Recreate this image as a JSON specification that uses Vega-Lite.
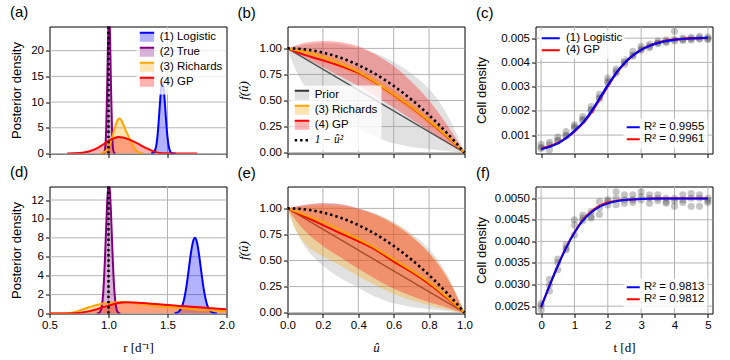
{
"$schema":"https://vega.github.io/schema/vega-lite/v6.json",
"padding":{"left":9.5,"top":4.5,"right":2,"bottom":2},
"columns":3,
"spacing":{"row":5,"column":1},
"align":"each",
"bounds":"full",
"resolve":{"scale":{"x":"independent","y":"independent","fill":"independent","stroke":"independent","color":"independent"},"axis":{"x":"independent","y":"independent"},"legend":{"fill":"independent","stroke":"independent","color":"independent"}},
"datasets":{
"vline":[{"r":1.0}],
"gx":[{"p":"a","v":1},{"p":"a","v":1.5},{"p":"d","v":1},{"p":"d","v":1.5},
{"p":"b","v":0.2},{"p":"b","v":0.4},{"p":"b","v":0.6},{"p":"b","v":0.8},{"p":"e","v":0.2},{"p":"e","v":0.4},{"p":"e","v":0.6},{"p":"e","v":0.8},
{"p":"c","v":0},{"p":"c","v":1},{"p":"c","v":2},{"p":"c","v":3},{"p":"c","v":4},{"p":"c","v":5},{"p":"f","v":0},{"p":"f","v":1},{"p":"f","v":2},{"p":"f","v":3},{"p":"f","v":4},{"p":"f","v":5}],
"gy":[{"p":"a","v":0},{"p":"a","v":5},{"p":"a","v":10},{"p":"a","v":15},{"p":"a","v":20},
{"p":"d","v":0},{"p":"d","v":2},{"p":"d","v":4},{"p":"d","v":6},{"p":"d","v":8},{"p":"d","v":10},{"p":"d","v":12},
{"p":"b","v":0},{"p":"b","v":0.25},{"p":"b","v":0.5},{"p":"b","v":0.75},{"p":"b","v":1},{"p":"e","v":0},{"p":"e","v":0.25},{"p":"e","v":0.5},{"p":"e","v":0.75},{"p":"e","v":1},
{"p":"c","v":0.001},{"p":"c","v":0.002},{"p":"c","v":0.003},{"p":"c","v":0.004},{"p":"c","v":0.005},
{"p":"f","v":0.0025},{"p":"f","v":0.003},{"p":"f","v":0.0035},{"p":"f","v":0.004},{"p":"f","v":0.0045},{"p":"f","v":0.005}],
"dens":[
{"p":"a","s":"(1) Logistic","r":1.36,"d":0},{"p":"a","s":"(1) Logistic","r":1.38,"d":0.12},{"p":"a","s":"(1) Logistic","r":1.40,"d":1.03},{"p":"a","s":"(1) Logistic","r":1.41,"d":2.37},{"p":"a","s":"(1) Logistic","r":1.42,"d":4.65},{"p":"a","s":"(1) Logistic","r":1.43,"d":7.76},{"p":"a","s":"(1) Logistic","r":1.44,"d":11.0},{"p":"a","s":"(1) Logistic","r":1.45,"d":13.4},{"p":"a","s":"(1) Logistic","r":1.457,"d":13.9},{"p":"a","s":"(1) Logistic","r":1.47,"d":12.1},{"p":"a","s":"(1) Logistic","r":1.48,"d":9.1},{"p":"a","s":"(1) Logistic","r":1.49,"d":5.8},{"p":"a","s":"(1) Logistic","r":1.50,"d":3.17},{"p":"a","s":"(1) Logistic","r":1.51,"d":1.46},{"p":"a","s":"(1) Logistic","r":1.52,"d":0.58},{"p":"a","s":"(1) Logistic","r":1.53,"d":0.2},{"p":"a","s":"(1) Logistic","r":1.55,"d":0.01},{"p":"a","s":"(1) Logistic","r":1.57,"d":0},
{"p":"a","s":"(2) True","r":0.95,"d":0},{"p":"a","s":"(2) True","r":0.96,"d":0.07},{"p":"a","s":"(2) True","r":0.97,"d":0.75},{"p":"a","s":"(2) True","r":0.98,"d":4.4},{"p":"a","s":"(2) True","r":0.99,"d":14.4},{"p":"a","s":"(2) True","r":1.0,"d":26},{"p":"a","s":"(2) True","r":1.005,"d":28},{"p":"a","s":"(2) True","r":1.01,"d":26},{"p":"a","s":"(2) True","r":1.02,"d":14.4},{"p":"a","s":"(2) True","r":1.03,"d":4.4},{"p":"a","s":"(2) True","r":1.04,"d":0.75},{"p":"a","s":"(2) True","r":1.05,"d":0.07},{"p":"a","s":"(2) True","r":1.06,"d":0},
{"p":"a","s":"(3) Richards","r":0.93,"d":0},{"p":"a","s":"(3) Richards","r":0.95,"d":0.11},{"p":"a","s":"(3) Richards","r":0.98,"d":0.53},{"p":"a","s":"(3) Richards","r":1.0,"d":1.2},{"p":"a","s":"(3) Richards","r":1.02,"d":2.3},{"p":"a","s":"(3) Richards","r":1.04,"d":3.9},{"p":"a","s":"(3) Richards","r":1.06,"d":5.5},{"p":"a","s":"(3) Richards","r":1.08,"d":6.6},{"p":"a","s":"(3) Richards","r":1.093,"d":6.8},{"p":"a","s":"(3) Richards","r":1.11,"d":6.4},{"p":"a","s":"(3) Richards","r":1.13,"d":5.4},{"p":"a","s":"(3) Richards","r":1.15,"d":4.3},{"p":"a","s":"(3) Richards","r":1.17,"d":3.3},{"p":"a","s":"(3) Richards","r":1.19,"d":2.4},{"p":"a","s":"(3) Richards","r":1.21,"d":1.5},{"p":"a","s":"(3) Richards","r":1.23,"d":0.7},{"p":"a","s":"(3) Richards","r":1.25,"d":0.3},{"p":"a","s":"(3) Richards","r":1.28,"d":0.05},{"p":"a","s":"(3) Richards","r":1.3,"d":0},
{"p":"a","s":"(4) GP","r":0.65,"d":0},{"p":"a","s":"(4) GP","r":0.71,"d":0.03},{"p":"a","s":"(4) GP","r":0.78,"d":0.15},{"p":"a","s":"(4) GP","r":0.84,"d":0.45},{"p":"a","s":"(4) GP","r":0.9,"d":1.0},{"p":"a","s":"(4) GP","r":0.93,"d":1.4},{"p":"a","s":"(4) GP","r":0.97,"d":2.0},{"p":"a","s":"(4) GP","r":1.01,"d":2.6},{"p":"a","s":"(4) GP","r":1.05,"d":3.0},{"p":"a","s":"(4) GP","r":1.08,"d":3.2},{"p":"a","s":"(4) GP","r":1.12,"d":3.1},{"p":"a","s":"(4) GP","r":1.16,"d":2.85},{"p":"a","s":"(4) GP","r":1.2,"d":2.45},{"p":"a","s":"(4) GP","r":1.25,"d":1.9},{"p":"a","s":"(4) GP","r":1.29,"d":1.4},{"p":"a","s":"(4) GP","r":1.33,"d":0.95},{"p":"a","s":"(4) GP","r":1.38,"d":0.45},{"p":"a","s":"(4) GP","r":1.43,"d":0.12},{"p":"a","s":"(4) GP","r":1.5,"d":0.03},{"p":"a","s":"(4) GP","r":1.6,"d":0.01},{"p":"a","s":"(4) GP","r":1.75,"d":0},
{"p":"d","s":"(1) Logistic","r":1.56,"d":0},{"p":"d","s":"(1) Logistic","r":1.58,"d":0.08},{"p":"d","s":"(1) Logistic","r":1.60,"d":0.25},{"p":"d","s":"(1) Logistic","r":1.62,"d":0.65},{"p":"d","s":"(1) Logistic","r":1.64,"d":1.47},{"p":"d","s":"(1) Logistic","r":1.66,"d":2.84},{"p":"d","s":"(1) Logistic","r":1.68,"d":4.66},{"p":"d","s":"(1) Logistic","r":1.70,"d":6.52},{"p":"d","s":"(1) Logistic","r":1.72,"d":7.77},{"p":"d","s":"(1) Logistic","r":1.732,"d":8.0},{"p":"d","s":"(1) Logistic","r":1.75,"d":7.5},{"p":"d","s":"(1) Logistic","r":1.77,"d":5.99},{"p":"d","s":"(1) Logistic","r":1.79,"d":4.08},{"p":"d","s":"(1) Logistic","r":1.81,"d":2.37},{"p":"d","s":"(1) Logistic","r":1.83,"d":1.17},{"p":"d","s":"(1) Logistic","r":1.85,"d":0.49},{"p":"d","s":"(1) Logistic","r":1.87,"d":0.18},{"p":"d","s":"(1) Logistic","r":1.89,"d":0.05},{"p":"d","s":"(1) Logistic","r":1.92,"d":0},
{"p":"d","s":"(2) True","r":0.9,"d":0},{"p":"d","s":"(2) True","r":0.92,"d":0.06},{"p":"d","s":"(2) True","r":0.94,"d":0.58},{"p":"d","s":"(2) True","r":0.95,"d":1.45},{"p":"d","s":"(2) True","r":0.96,"d":3.15},{"p":"d","s":"(2) True","r":0.97,"d":5.77},{"p":"d","s":"(2) True","r":0.98,"d":9.04},{"p":"d","s":"(2) True","r":0.99,"d":12.05},{"p":"d","s":"(2) True","r":1.003,"d":13.8},{"p":"d","s":"(2) True","r":1.01,"d":13.3},{"p":"d","s":"(2) True","r":1.02,"d":10.96},{"p":"d","s":"(2) True","r":1.03,"d":7.7},{"p":"d","s":"(2) True","r":1.04,"d":4.62},{"p":"d","s":"(2) True","r":1.05,"d":2.36},{"p":"d","s":"(2) True","r":1.06,"d":1.03},{"p":"d","s":"(2) True","r":1.08,"d":0.12},{"p":"d","s":"(2) True","r":1.1,"d":0},
{"p":"d","s":"(3) Richards","r":0.5,"d":0},{"p":"d","s":"(3) Richards","r":0.6,"d":0.01},{"p":"d","s":"(3) Richards","r":0.67,"d":0.05},{"p":"d","s":"(3) Richards","r":0.72,"d":0.15},{"p":"d","s":"(3) Richards","r":0.78,"d":0.43},{"p":"d","s":"(3) Richards","r":0.84,"d":0.68},{"p":"d","s":"(3) Richards","r":0.9,"d":0.9},{"p":"d","s":"(3) Richards","r":0.96,"d":1.05},{"p":"d","s":"(3) Richards","r":1.02,"d":1.15},{"p":"d","s":"(3) Richards","r":1.1,"d":1.22},{"p":"d","s":"(3) Richards","r":1.2,"d":1.12},{"p":"d","s":"(3) Richards","r":1.3,"d":0.97},{"p":"d","s":"(3) Richards","r":1.4,"d":0.83},{"p":"d","s":"(3) Richards","r":1.5,"d":0.7},{"p":"d","s":"(3) Richards","r":1.6,"d":0.57},{"p":"d","s":"(3) Richards","r":1.7,"d":0.47},{"p":"d","s":"(3) Richards","r":1.8,"d":0.38},{"p":"d","s":"(3) Richards","r":1.9,"d":0.31},{"p":"d","s":"(3) Richards","r":2.0,"d":0.25},
{"p":"d","s":"(4) GP","r":0.5,"d":0},{"p":"d","s":"(4) GP","r":0.65,"d":0.005},{"p":"d","s":"(4) GP","r":0.72,"d":0.02},{"p":"d","s":"(4) GP","r":0.78,"d":0.1},{"p":"d","s":"(4) GP","r":0.84,"d":0.25},{"p":"d","s":"(4) GP","r":0.9,"d":0.45},{"p":"d","s":"(4) GP","r":0.96,"d":0.7},{"p":"d","s":"(4) GP","r":1.02,"d":0.9},{"p":"d","s":"(4) GP","r":1.08,"d":1.1},{"p":"d","s":"(4) GP","r":1.15,"d":1.2},{"p":"d","s":"(4) GP","r":1.22,"d":1.17},{"p":"d","s":"(4) GP","r":1.3,"d":1.1},{"p":"d","s":"(4) GP","r":1.4,"d":1.0},{"p":"d","s":"(4) GP","r":1.5,"d":0.9},{"p":"d","s":"(4) GP","r":1.6,"d":0.8},{"p":"d","s":"(4) GP","r":1.7,"d":0.72},{"p":"d","s":"(4) GP","r":1.8,"d":0.63},{"p":"d","s":"(4) GP","r":1.9,"d":0.53},{"p":"d","s":"(4) GP","r":2.0,"d":0.44}
],
"band":[
{"p":"b","s":"Prior","u":0,"lo":1,"hi":1},{"p":"b","s":"Prior","u":0.05,"lo":0.78,"hi":1.02},{"p":"b","s":"Prior","u":0.1,"lo":0.63,"hi":1.035},{"p":"b","s":"Prior","u":0.15,"lo":0.53,"hi":1.045},{"p":"b","s":"Prior","u":0.2,"lo":0.45,"hi":1.05},{"p":"b","s":"Prior","u":0.25,"lo":0.385,"hi":1.05},{"p":"b","s":"Prior","u":0.3,"lo":0.33,"hi":1.04},{"p":"b","s":"Prior","u":0.4,"lo":0.24,"hi":1.0},{"p":"b","s":"Prior","u":0.5,"lo":0.15,"hi":0.95},{"p":"b","s":"Prior","u":0.6,"lo":0.09,"hi":0.87},{"p":"b","s":"Prior","u":0.7,"lo":0.055,"hi":0.76},{"p":"b","s":"Prior","u":0.8,"lo":0.035,"hi":0.61},{"p":"b","s":"Prior","u":0.9,"lo":0.015,"hi":0.37},{"p":"b","s":"Prior","u":0.95,"lo":0.007,"hi":0.2},{"p":"b","s":"Prior","u":1,"lo":0,"hi":0},
{"p":"b","s":"(3) Richards","u":0,"lo":1,"hi":1},{"p":"b","s":"(3) Richards","u":0.1,"lo":0.94,"hi":0.99},{"p":"b","s":"(3) Richards","u":0.2,"lo":0.88,"hi":0.95},{"p":"b","s":"(3) Richards","u":0.3,"lo":0.81,"hi":0.89},{"p":"b","s":"(3) Richards","u":0.4,"lo":0.735,"hi":0.815},{"p":"b","s":"(3) Richards","u":0.5,"lo":0.635,"hi":0.715},{"p":"b","s":"(3) Richards","u":0.6,"lo":0.52,"hi":0.6},{"p":"b","s":"(3) Richards","u":0.7,"lo":0.4,"hi":0.48},{"p":"b","s":"(3) Richards","u":0.8,"lo":0.27,"hi":0.34},{"p":"b","s":"(3) Richards","u":0.9,"lo":0.13,"hi":0.19},{"p":"b","s":"(3) Richards","u":1,"lo":0,"hi":0},
{"p":"b","s":"(4) GP","u":0,"lo":1,"hi":1},{"p":"b","s":"(4) GP","u":0.05,"lo":0.955,"hi":1.03},{"p":"b","s":"(4) GP","u":0.1,"lo":0.91,"hi":1.055},{"p":"b","s":"(4) GP","u":0.2,"lo":0.82,"hi":1.07},{"p":"b","s":"(4) GP","u":0.3,"lo":0.73,"hi":1.06},{"p":"b","s":"(4) GP","u":0.4,"lo":0.64,"hi":1.02},{"p":"b","s":"(4) GP","u":0.5,"lo":0.54,"hi":0.94},{"p":"b","s":"(4) GP","u":0.6,"lo":0.43,"hi":0.83},{"p":"b","s":"(4) GP","u":0.7,"lo":0.32,"hi":0.68},{"p":"b","s":"(4) GP","u":0.8,"lo":0.21,"hi":0.5},{"p":"b","s":"(4) GP","u":0.9,"lo":0.1,"hi":0.27},{"p":"b","s":"(4) GP","u":0.95,"lo":0.05,"hi":0.14},{"p":"b","s":"(4) GP","u":1,"lo":0,"hi":0},
{"p":"e","s":"Prior","u":0,"lo":1,"hi":1},{"p":"e","s":"Prior","u":0.05,"lo":0.78,"hi":1.02},{"p":"e","s":"Prior","u":0.1,"lo":0.63,"hi":1.035},{"p":"e","s":"Prior","u":0.15,"lo":0.53,"hi":1.045},{"p":"e","s":"Prior","u":0.2,"lo":0.45,"hi":1.05},{"p":"e","s":"Prior","u":0.25,"lo":0.385,"hi":1.05},{"p":"e","s":"Prior","u":0.3,"lo":0.33,"hi":1.04},{"p":"e","s":"Prior","u":0.4,"lo":0.24,"hi":1.0},{"p":"e","s":"Prior","u":0.5,"lo":0.15,"hi":0.95},{"p":"e","s":"Prior","u":0.6,"lo":0.09,"hi":0.87},{"p":"e","s":"Prior","u":0.7,"lo":0.055,"hi":0.76},{"p":"e","s":"Prior","u":0.8,"lo":0.035,"hi":0.61},{"p":"e","s":"Prior","u":0.9,"lo":0.015,"hi":0.37},{"p":"e","s":"Prior","u":0.95,"lo":0.007,"hi":0.2},{"p":"e","s":"Prior","u":1,"lo":0,"hi":0},
{"p":"e","s":"(3) Richards","u":0,"lo":1,"hi":1},{"p":"e","s":"(3) Richards","u":0.05,"lo":0.78,"hi":1.01},{"p":"e","s":"(3) Richards","u":0.1,"lo":0.66,"hi":1.02},{"p":"e","s":"(3) Richards","u":0.2,"lo":0.54,"hi":1.03},{"p":"e","s":"(3) Richards","u":0.3,"lo":0.45,"hi":1.02},{"p":"e","s":"(3) Richards","u":0.4,"lo":0.35,"hi":0.99},{"p":"e","s":"(3) Richards","u":0.5,"lo":0.26,"hi":0.94},{"p":"e","s":"(3) Richards","u":0.6,"lo":0.18,"hi":0.86},{"p":"e","s":"(3) Richards","u":0.7,"lo":0.12,"hi":0.74},{"p":"e","s":"(3) Richards","u":0.8,"lo":0.07,"hi":0.58},{"p":"e","s":"(3) Richards","u":0.9,"lo":0.03,"hi":0.35},{"p":"e","s":"(3) Richards","u":0.95,"lo":0.012,"hi":0.19},{"p":"e","s":"(3) Richards","u":1,"lo":0,"hi":0},
{"p":"e","s":"(4) GP","u":0,"lo":1,"hi":1},{"p":"e","s":"(4) GP","u":0.05,"lo":0.88,"hi":1.02},{"p":"e","s":"(4) GP","u":0.1,"lo":0.78,"hi":1.035},{"p":"e","s":"(4) GP","u":0.2,"lo":0.64,"hi":1.05},{"p":"e","s":"(4) GP","u":0.3,"lo":0.53,"hi":1.04},{"p":"e","s":"(4) GP","u":0.4,"lo":0.42,"hi":1.0},{"p":"e","s":"(4) GP","u":0.5,"lo":0.32,"hi":0.94},{"p":"e","s":"(4) GP","u":0.6,"lo":0.23,"hi":0.85},{"p":"e","s":"(4) GP","u":0.7,"lo":0.16,"hi":0.73},{"p":"e","s":"(4) GP","u":0.8,"lo":0.1,"hi":0.57},{"p":"e","s":"(4) GP","u":0.9,"lo":0.05,"hi":0.34},{"p":"e","s":"(4) GP","u":0.95,"lo":0.02,"hi":0.18},{"p":"e","s":"(4) GP","u":1,"lo":0,"hi":0}
],
"mean":[
{"p":"b","s":"Prior","u":0,"f":1},{"p":"b","s":"Prior","u":1,"f":0},
{"p":"e","s":"Prior","u":0,"f":1},{"p":"e","s":"Prior","u":1,"f":0},
{"p":"b","s":"(4) GP","u":0,"f":1},{"p":"b","s":"(4) GP","u":0.05,"f":0.965},{"p":"b","s":"(4) GP","u":0.1,"f":0.935},{"p":"b","s":"(4) GP","u":0.2,"f":0.885},{"p":"b","s":"(4) GP","u":0.3,"f":0.83},{"p":"b","s":"(4) GP","u":0.4,"f":0.765},{"p":"b","s":"(4) GP","u":0.5,"f":0.67},{"p":"b","s":"(4) GP","u":0.6,"f":0.555},{"p":"b","s":"(4) GP","u":0.7,"f":0.435},{"p":"b","s":"(4) GP","u":0.8,"f":0.3},{"p":"b","s":"(4) GP","u":0.9,"f":0.155},{"p":"b","s":"(4) GP","u":1,"f":0},
{"p":"b","s":"(3) Richards","u":0,"f":1},{"p":"b","s":"(3) Richards","u":0.1,"f":0.965},{"p":"b","s":"(3) Richards","u":0.2,"f":0.915},{"p":"b","s":"(3) Richards","u":0.3,"f":0.85},{"p":"b","s":"(3) Richards","u":0.4,"f":0.775},{"p":"b","s":"(3) Richards","u":0.5,"f":0.675},{"p":"b","s":"(3) Richards","u":0.6,"f":0.56},{"p":"b","s":"(3) Richards","u":0.7,"f":0.44},{"p":"b","s":"(3) Richards","u":0.8,"f":0.305},{"p":"b","s":"(3) Richards","u":0.9,"f":0.16},{"p":"b","s":"(3) Richards","u":1,"f":0},
{"p":"e","s":"(4) GP","u":0,"f":1},{"p":"e","s":"(4) GP","u":0.1,"f":0.92},{"p":"e","s":"(4) GP","u":0.2,"f":0.84},{"p":"e","s":"(4) GP","u":0.3,"f":0.76},{"p":"e","s":"(4) GP","u":0.4,"f":0.685},{"p":"e","s":"(4) GP","u":0.5,"f":0.6},{"p":"e","s":"(4) GP","u":0.6,"f":0.49},{"p":"e","s":"(4) GP","u":0.7,"f":0.39},{"p":"e","s":"(4) GP","u":0.8,"f":0.275},{"p":"e","s":"(4) GP","u":0.9,"f":0.14},{"p":"e","s":"(4) GP","u":1,"f":0},
{"p":"e","s":"(3) Richards","u":0,"f":1},{"p":"e","s":"(3) Richards","u":0.1,"f":0.935},{"p":"e","s":"(3) Richards","u":0.2,"f":0.87},{"p":"e","s":"(3) Richards","u":0.3,"f":0.79},{"p":"e","s":"(3) Richards","u":0.4,"f":0.705},{"p":"e","s":"(3) Richards","u":0.5,"f":0.615},{"p":"e","s":"(3) Richards","u":0.6,"f":0.51},{"p":"e","s":"(3) Richards","u":0.7,"f":0.405},{"p":"e","s":"(3) Richards","u":0.8,"f":0.29},{"p":"e","s":"(3) Richards","u":0.9,"f":0.15},{"p":"e","s":"(3) Richards","u":1,"f":0}
],
"quad":[
{"s":"1 − û²","u":0,"f":1},{"s":"1 − û²","u":0.05,"f":0.9975},{"s":"1 − û²","u":0.1,"f":0.99},{"s":"1 − û²","u":0.15,"f":0.9775},{"s":"1 − û²","u":0.2,"f":0.96},{"s":"1 − û²","u":0.25,"f":0.9375},{"s":"1 − û²","u":0.3,"f":0.91},{"s":"1 − û²","u":0.35,"f":0.8775},{"s":"1 − û²","u":0.4,"f":0.84},{"s":"1 − û²","u":0.45,"f":0.7975},{"s":"1 − û²","u":0.5,"f":0.75},{"s":"1 − û²","u":0.55,"f":0.6975},{"s":"1 − û²","u":0.6,"f":0.64},{"s":"1 − û²","u":0.65,"f":0.5775},{"s":"1 − û²","u":0.7,"f":0.51},{"s":"1 − û²","u":0.75,"f":0.4375},{"s":"1 − û²","u":0.8,"f":0.36},{"s":"1 − û²","u":0.85,"f":0.2775},{"s":"1 − û²","u":0.9,"f":0.19},{"s":"1 − û²","u":0.95,"f":0.0975},{"s":"1 − û²","u":1,"f":0}
],
"fit":[
{"p":"c","m":"(4) GP","l":"R² = 0.9961","t":0,"c":0.00044},{"p":"c","m":"(4) GP","l":"R² = 0.9961","t":0.25,"c":0.00054},{"p":"c","m":"(4) GP","l":"R² = 0.9961","t":0.5,"c":0.00068},{"p":"c","m":"(4) GP","l":"R² = 0.9961","t":0.75,"c":0.00088},{"p":"c","m":"(4) GP","l":"R² = 0.9961","t":1,"c":0.00115},{"p":"c","m":"(4) GP","l":"R² = 0.9961","t":1.25,"c":0.00148},{"p":"c","m":"(4) GP","l":"R² = 0.9961","t":1.5,"c":0.00192},{"p":"c","m":"(4) GP","l":"R² = 0.9961","t":1.75,"c":0.00246},{"p":"c","m":"(4) GP","l":"R² = 0.9961","t":2,"c":0.00302},{"p":"c","m":"(4) GP","l":"R² = 0.9961","t":2.25,"c":0.00354},{"p":"c","m":"(4) GP","l":"R² = 0.9961","t":2.5,"c":0.00396},{"p":"c","m":"(4) GP","l":"R² = 0.9961","t":2.75,"c":0.00428},{"p":"c","m":"(4) GP","l":"R² = 0.9961","t":3,"c":0.00452},{"p":"c","m":"(4) GP","l":"R² = 0.9961","t":3.25,"c":0.00469},{"p":"c","m":"(4) GP","l":"R² = 0.9961","t":3.5,"c":0.00481},{"p":"c","m":"(4) GP","l":"R² = 0.9961","t":3.75,"c":0.00489},{"p":"c","m":"(4) GP","l":"R² = 0.9961","t":4,"c":0.00494},{"p":"c","m":"(4) GP","l":"R² = 0.9961","t":4.5,"c":0.00499},{"p":"c","m":"(4) GP","l":"R² = 0.9961","t":5,"c":0.00501},
{"p":"c","m":"(1) Logistic","l":"R² = 0.9955","t":0,"c":0.00042},{"p":"c","m":"(1) Logistic","l":"R² = 0.9955","t":0.25,"c":0.00052},{"p":"c","m":"(1) Logistic","l":"R² = 0.9955","t":0.5,"c":0.00066},{"p":"c","m":"(1) Logistic","l":"R² = 0.9955","t":0.75,"c":0.00088},{"p":"c","m":"(1) Logistic","l":"R² = 0.9955","t":1,"c":0.00117},{"p":"c","m":"(1) Logistic","l":"R² = 0.9955","t":1.25,"c":0.0015},{"p":"c","m":"(1) Logistic","l":"R² = 0.9955","t":1.5,"c":0.00196},{"p":"c","m":"(1) Logistic","l":"R² = 0.9955","t":1.75,"c":0.0025},{"p":"c","m":"(1) Logistic","l":"R² = 0.9955","t":2,"c":0.00305},{"p":"c","m":"(1) Logistic","l":"R² = 0.9955","t":2.25,"c":0.00356},{"p":"c","m":"(1) Logistic","l":"R² = 0.9955","t":2.5,"c":0.00397},{"p":"c","m":"(1) Logistic","l":"R² = 0.9955","t":2.75,"c":0.00428},{"p":"c","m":"(1) Logistic","l":"R² = 0.9955","t":3,"c":0.00452},{"p":"c","m":"(1) Logistic","l":"R² = 0.9955","t":3.25,"c":0.00468},{"p":"c","m":"(1) Logistic","l":"R² = 0.9955","t":3.5,"c":0.0048},{"p":"c","m":"(1) Logistic","l":"R² = 0.9955","t":3.75,"c":0.00488},{"p":"c","m":"(1) Logistic","l":"R² = 0.9955","t":4,"c":0.00493},{"p":"c","m":"(1) Logistic","l":"R² = 0.9955","t":4.5,"c":0.00499},{"p":"c","m":"(1) Logistic","l":"R² = 0.9955","t":5,"c":0.00502},
{"p":"f","m":"(4) GP","l":"R² = 0.9812","t":0,"c":0.00248},{"p":"f","m":"(4) GP","l":"R² = 0.9812","t":0.25,"c":0.00297},{"p":"f","m":"(4) GP","l":"R² = 0.9812","t":0.5,"c":0.00344},{"p":"f","m":"(4) GP","l":"R² = 0.9812","t":0.75,"c":0.00386},{"p":"f","m":"(4) GP","l":"R² = 0.9812","t":1,"c":0.00421},{"p":"f","m":"(4) GP","l":"R² = 0.9812","t":1.25,"c":0.0045},{"p":"f","m":"(4) GP","l":"R² = 0.9812","t":1.5,"c":0.00469},{"p":"f","m":"(4) GP","l":"R² = 0.9812","t":1.75,"c":0.00482},{"p":"f","m":"(4) GP","l":"R² = 0.9812","t":2,"c":0.0049},{"p":"f","m":"(4) GP","l":"R² = 0.9812","t":2.25,"c":0.00494},{"p":"f","m":"(4) GP","l":"R² = 0.9812","t":2.5,"c":0.00496},{"p":"f","m":"(4) GP","l":"R² = 0.9812","t":3,"c":0.00498},{"p":"f","m":"(4) GP","l":"R² = 0.9812","t":3.5,"c":0.00499},{"p":"f","m":"(4) GP","l":"R² = 0.9812","t":4,"c":0.00499},{"p":"f","m":"(4) GP","l":"R² = 0.9812","t":5,"c":0.00499},
{"p":"f","m":"(1) Logistic","l":"R² = 0.9813","t":0,"c":0.00248},{"p":"f","m":"(1) Logistic","l":"R² = 0.9813","t":0.25,"c":0.00297},{"p":"f","m":"(1) Logistic","l":"R² = 0.9813","t":0.5,"c":0.00343},{"p":"f","m":"(1) Logistic","l":"R² = 0.9813","t":0.75,"c":0.00385},{"p":"f","m":"(1) Logistic","l":"R² = 0.9813","t":1,"c":0.0042},{"p":"f","m":"(1) Logistic","l":"R² = 0.9813","t":1.25,"c":0.00448},{"p":"f","m":"(1) Logistic","l":"R² = 0.9813","t":1.5,"c":0.00467},{"p":"f","m":"(1) Logistic","l":"R² = 0.9813","t":1.75,"c":0.0048},{"p":"f","m":"(1) Logistic","l":"R² = 0.9813","t":2,"c":0.00488},{"p":"f","m":"(1) Logistic","l":"R² = 0.9813","t":2.25,"c":0.00493},{"p":"f","m":"(1) Logistic","l":"R² = 0.9813","t":2.5,"c":0.00496},{"p":"f","m":"(1) Logistic","l":"R² = 0.9813","t":3,"c":0.00498},{"p":"f","m":"(1) Logistic","l":"R² = 0.9813","t":3.5,"c":0.00499},{"p":"f","m":"(1) Logistic","l":"R² = 0.9813","t":4,"c":0.00499},{"p":"f","m":"(1) Logistic","l":"R² = 0.9813","t":5,"c":0.00499}
],
"obs":[
{"p":"c","t":0,"c":0.00062},{"p":"c","t":0,"c":0.0005},{"p":"c","t":0,"c":0.00045},
{"p":"c","t":0.25,"c":0.0007},{"p":"c","t":0.25,"c":0.0006},{"p":"c","t":0.25,"c":0.00038},
{"p":"c","t":0.5,"c":0.00092},{"p":"c","t":0.5,"c":0.0008},{"p":"c","t":0.5,"c":0.00075},
{"p":"c","t":0.75,"c":0.00115},{"p":"c","t":0.75,"c":0.001},{"p":"c","t":0.75,"c":0.00095},
{"p":"c","t":1,"c":0.00142},{"p":"c","t":1,"c":0.00135},{"p":"c","t":1,"c":0.00128},
{"p":"c","t":1.25,"c":0.00176},{"p":"c","t":1.25,"c":0.00165},{"p":"c","t":1.25,"c":0.0016},
{"p":"c","t":1.5,"c":0.00218},{"p":"c","t":1.5,"c":0.00205},{"p":"c","t":1.5,"c":0.002},
{"p":"c","t":1.75,"c":0.00268},{"p":"c","t":1.75,"c":0.00255},{"p":"c","t":1.75,"c":0.0025},
{"p":"c","t":2,"c":0.00335},{"p":"c","t":2,"c":0.00322},{"p":"c","t":2,"c":0.00315},
{"p":"c","t":2.25,"c":0.00372},{"p":"c","t":2.25,"c":0.00362},{"p":"c","t":2.25,"c":0.00355},
{"p":"c","t":2.5,"c":0.00412},{"p":"c","t":2.5,"c":0.004},{"p":"c","t":2.5,"c":0.00392},
{"p":"c","t":2.75,"c":0.00446},{"p":"c","t":2.75,"c":0.0043},{"p":"c","t":2.75,"c":0.00425},
{"p":"c","t":3,"c":0.00466},{"p":"c","t":3,"c":0.00455},{"p":"c","t":3,"c":0.0045},
{"p":"c","t":3.25,"c":0.00475},{"p":"c","t":3.25,"c":0.00466},{"p":"c","t":3.25,"c":0.0046},
{"p":"c","t":3.5,"c":0.00488},{"p":"c","t":3.5,"c":0.0048},{"p":"c","t":3.5,"c":0.00478},
{"p":"c","t":3.75,"c":0.00492},{"p":"c","t":3.75,"c":0.00486},{"p":"c","t":3.75,"c":0.00482},
{"p":"c","t":4,"c":0.00528},{"p":"c","t":4,"c":0.00494},{"p":"c","t":4,"c":0.00488},
{"p":"c","t":4.25,"c":0.005},{"p":"c","t":4.25,"c":0.00494},{"p":"c","t":4.25,"c":0.0049},
{"p":"c","t":4.5,"c":0.00503},{"p":"c","t":4.5,"c":0.00497},{"p":"c","t":4.5,"c":0.00492},
{"p":"c","t":4.75,"c":0.00508},{"p":"c","t":4.75,"c":0.005},{"p":"c","t":4.75,"c":0.00496},
{"p":"c","t":5,"c":0.00505},{"p":"c","t":5,"c":0.00498},{"p":"c","t":5,"c":0.00494},
{"p":"f","t":0,"c":0.00256},{"p":"f","t":0,"c":0.00251},{"p":"f","t":0,"c":0.00241},
{"p":"f","t":0.25,"c":0.00312},{"p":"f","t":0.25,"c":0.00299},{"p":"f","t":0.25,"c":0.00285},
{"p":"f","t":0.5,"c":0.00359},{"p":"f","t":0.5,"c":0.00351},{"p":"f","t":0.5,"c":0.00334},
{"p":"f","t":0.75,"c":0.00392},{"p":"f","t":0.75,"c":0.00384},{"p":"f","t":0.75,"c":0.0038},
{"p":"f","t":1,"c":0.0045},{"p":"f","t":1,"c":0.00438},{"p":"f","t":1,"c":0.00415},
{"p":"f","t":1.25,"c":0.00461},{"p":"f","t":1.25,"c":0.00454},{"p":"f","t":1.25,"c":0.00448},
{"p":"f","t":1.5,"c":0.00469},{"p":"f","t":1.5,"c":0.00458},{"p":"f","t":1.5,"c":0.00454},
{"p":"f","t":1.75,"c":0.00492},{"p":"f","t":1.75,"c":0.00477},{"p":"f","t":1.75,"c":0.00462},
{"p":"f","t":2,"c":0.00496},{"p":"f","t":2,"c":0.00492},{"p":"f","t":2,"c":0.00484},
{"p":"f","t":2.25,"c":0.00515},{"p":"f","t":2.25,"c":0.005},{"p":"f","t":2.25,"c":0.00485},
{"p":"f","t":2.5,"c":0.00508},{"p":"f","t":2.5,"c":0.00496},{"p":"f","t":2.5,"c":0.00488},
{"p":"f","t":2.75,"c":0.00508},{"p":"f","t":2.75,"c":0.00496},{"p":"f","t":2.75,"c":0.0049},
{"p":"f","t":3,"c":0.00515},{"p":"f","t":3,"c":0.00503},{"p":"f","t":3,"c":0.00496},
{"p":"f","t":3.25,"c":0.00508},{"p":"f","t":3.25,"c":0.005},{"p":"f","t":3.25,"c":0.00488},
{"p":"f","t":3.5,"c":0.00508},{"p":"f","t":3.5,"c":0.005},{"p":"f","t":3.5,"c":0.00494},
{"p":"f","t":3.75,"c":0.005},{"p":"f","t":3.75,"c":0.00492},{"p":"f","t":3.75,"c":0.00488},
{"p":"f","t":4,"c":0.005},{"p":"f","t":4,"c":0.00494},{"p":"f","t":4,"c":0.00481},
{"p":"f","t":4.25,"c":0.00508},{"p":"f","t":4.25,"c":0.00496},{"p":"f","t":4.25,"c":0.0049},
{"p":"f","t":4.5,"c":0.00511},{"p":"f","t":4.5,"c":0.005},{"p":"f","t":4.5,"c":0.00481},
{"p":"f","t":4.75,"c":0.00508},{"p":"f","t":4.75,"c":0.005},{"p":"f","t":4.75,"c":0.00481},
{"p":"f","t":5,"c":0.005},{"p":"f","t":5,"c":0.00494},{"p":"f","t":5,"c":0.0049}
]
},
"concat":[
{"width":177,"height":127,"title":{"text":"(a)"},
 "layer":[
  {"data":{"name":"gx"},"transform":[{"filter":"datum.p==='a'"}],"mark":{"type":"rule","color":"#b4b4b4","strokeWidth":1},"encoding":{"x":{"field":"v","type":"quantitative"}}},
  {"data":{"name":"gy"},"transform":[{"filter":"datum.p==='a'"}],"mark":{"type":"rule","color":"#b4b4b4","strokeWidth":1},"encoding":{"y":{"field":"v","type":"quantitative"}}},
  {"data":{"name":"dens"},"transform":[{"filter":"datum.p==='a'"}],
   "mark":{"type":"area","fillOpacity":0.3,"clip":true,"interpolate":"monotone"},
   "encoding":{
    "x":{"field":"r","type":"quantitative","scale":{"domain":[0.5,2.0],"nice":false,"zero":false},"axis":{"values":[0.5,1,1.5,2],"tickCount":20,"labels":false,"title":null}},
    "y":{"field":"d","type":"quantitative","stack":null,"scale":{"domain":[0,24.7],"nice":false},"axis":{"values":[0,5,10,15,20],"tickCount":20,"format":"d","title":"Posterior density","minExtent":22,"maxExtent":22,"titlePadding":4.5}},
    "fill":{"field":"s","type":"nominal","scale":{"domain":["(1) Logistic","(2) True","(3) Richards","(4) GP"],"range":["#0000ff","#800080","#ffa500","#ff0000"]},
      "legend":{"orient":"top-right","offset":1.5,"title":null,"symbolType":"M-1.6,-1L1.6,-1L1.6,1L-1.6,1Z","symbolSize":81,"symbolStrokeWidth":2,"symbolDash":[14.4,100],"symbolOffset":1.7,"labelOffset":7,"rowPadding":-7.5,"encode":{"symbols":{"update":{"fillOpacity":{"value":0.3}}}}}}
   }},
  {"data":{"name":"dens"},"transform":[{"filter":"datum.p==='a'"}],
   "mark":{"type":"line","strokeWidth":2,"clip":true,"interpolate":"monotone"},
   "encoding":{
    "x":{"field":"r","type":"quantitative"},
    "y":{"field":"d","type":"quantitative"},
    "stroke":{"field":"s","type":"nominal","scale":{"domain":["(1) Logistic","(2) True","(3) Richards","(4) GP"],"range":["#0000ff","#800080","#ffa500","#ff0000"]},
      "legend":{"orient":"top-right","offset":1.5,"title":null,"symbolType":"M-1.6,-1L1.6,-1L1.6,1L-1.6,1Z","symbolSize":81,"symbolStrokeWidth":2,"symbolDash":[14.4,100],"symbolOffset":1.7,"labelOffset":7,"rowPadding":-7.5,"encode":{"symbols":{"update":{"fillOpacity":{"value":0.3}}}}}}
   }},
  {"data":{"name":"vline"},"mark":{"type":"rule","color":"black","strokeWidth":2.5,"strokeDash":[2.4,2.8]},
   "encoding":{"x":{"field":"r","type":"quantitative"}}}
 ]},
{"width":177,"height":127,"title":{"text":"(b)"},
 "layer":[
  {"data":{"name":"gx"},"transform":[{"filter":"datum.p==='b'"}],"mark":{"type":"rule","color":"#b4b4b4","strokeWidth":1},"encoding":{"x":{"field":"v","type":"quantitative"}}},
  {"data":{"name":"gy"},"transform":[{"filter":"datum.p==='b'"}],"mark":{"type":"rule","color":"#b4b4b4","strokeWidth":1},"encoding":{"y":{"field":"v","type":"quantitative"}}},
  {"data":{"name":"mean"},"transform":[{"filter":"datum.p==='b' && datum.s==='Prior'"}],
   "mark":{"type":"line","strokeWidth":1.4},
   "encoding":{
    "x":{"field":"u","type":"quantitative","scale":{"domain":[0,1],"nice":false},"axis":{"values":[0,0.2,0.4,0.6,0.8,1],"tickCount":20,"labels":false,"title":null}},
    "y":{"field":"f","type":"quantitative","scale":{"domain":[-0.008,1.21],"nice":false,"zero":false},"axis":{"values":[0,0.25,0.5,0.75,1],"tickCount":20,"format":".2f","title":"f(û)","titleFont":"Liberation Serif","titleFontStyle":"italic","minExtent":30,"maxExtent":30,"titlePadding":7}},
    "stroke":{"field":"s","type":"nominal","scale":{"domain":["Prior","(3) Richards","(4) GP","1 − û²"],"range":["#333333","#ffa500","#ff0000","#000000"]},
      "legend":{"orient":"bottom-left","offset":3,"padding":4,"title":null,"symbolType":"M-1.6,-1L1.6,-1L1.6,1L-1.6,1Z","symbolSize":81,"symbolStrokeWidth":2,"symbolDash":[14.4,100],"symbolOffset":1.7,"labelOffset":7,"rowPadding":-8,
        "encode":{"symbols":{"update":{"fillOpacity":{"value":0.3},"shape":{"signal":"datum.index===3?'M-1.6,0L1.6,0':'M-1.6,-1L1.6,-1L1.6,1L-1.6,1Z'"},"strokeDash":{"signal":"datum.index===3?[2.4,3]:[14.4,100]"},"strokeWidth":{"signal":"datum.index===3?2.6:2"}}},
                  "labels":{"update":{"font":{"signal":"datum.index===3?'Liberation Serif':'Liberation Sans'"},"fontStyle":{"signal":"datum.index===3?'italic':'normal'"}}}}}}
   }},
  {"data":{"name":"band"},"transform":[{"filter":"datum.p==='b'"}],
   "mark":{"type":"area","fillOpacity":0.3,"interpolate":"monotone"},
   "encoding":{
    "x":{"field":"u","type":"quantitative"},
    "y":{"field":"lo","type":"quantitative","stack":null},
    "y2":{"field":"hi"},
    "fill":{"field":"s","type":"nominal","scale":{"domain":["Prior","(3) Richards","(4) GP","1 − û²"],"range":["#9a9a9a","#ffa500","#ff0000","rgba(0,0,0,0)"]},
      "legend":{"orient":"bottom-left","offset":3,"padding":4,"title":null,"symbolType":"M-1.6,-1L1.6,-1L1.6,1L-1.6,1Z","symbolSize":81,"symbolStrokeWidth":2,"symbolDash":[14.4,100],"symbolOffset":1.7,"labelOffset":7,"rowPadding":-8,
        "encode":{"symbols":{"update":{"fillOpacity":{"value":0.3},"shape":{"signal":"datum.index===3?'M-1.6,0L1.6,0':'M-1.6,-1L1.6,-1L1.6,1L-1.6,1Z'"},"strokeDash":{"signal":"datum.index===3?[2.4,3]:[14.4,100]"},"strokeWidth":{"signal":"datum.index===3?2.6:2"}}},
                  "labels":{"update":{"font":{"signal":"datum.index===3?'Liberation Serif':'Liberation Sans'"},"fontStyle":{"signal":"datum.index===3?'italic':'normal'"}}}}}}
   }},
  {"data":{"name":"mean"},"transform":[{"filter":"datum.p==='b' && datum.s!=='Prior'"}],
   "mark":{"type":"line","strokeWidth":2,"interpolate":"monotone"},
   "encoding":{"x":{"field":"u","type":"quantitative"},"y":{"field":"f","type":"quantitative"},"stroke":{"field":"s","type":"nominal"}}},
  {"data":{"name":"quad"},
   "mark":{"type":"line","strokeWidth":2.6,"strokeDash":[2.4,3],"interpolate":"monotone"},
   "encoding":{"x":{"field":"u","type":"quantitative"},"y":{"field":"f","type":"quantitative"},"stroke":{"field":"s","type":"nominal"}}}
 ]},
{"width":177,"height":127,"title":{"text":"(c)"},
 "layer":[
  {"data":{"name":"gx"},"transform":[{"filter":"datum.p==='c'"}],"mark":{"type":"rule","color":"#b4b4b4","strokeWidth":1},"encoding":{"x":{"field":"v","type":"quantitative"}}},
  {"data":{"name":"gy"},"transform":[{"filter":"datum.p==='c'"}],"mark":{"type":"rule","color":"#b4b4b4","strokeWidth":1},"encoding":{"y":{"field":"v","type":"quantitative"}}},
  {"data":{"name":"obs"},"transform":[{"filter":"datum.p==='c'"}],
   "mark":{"type":"circle","size":50,"color":"#404040","opacity":0.3},
   "encoding":{
    "x":{"field":"t","type":"quantitative","scale":{"domain":[-0.168,5.14],"nice":false,"zero":false},"axis":{"values":[0,1,2,3,4,5],"tickCount":20,"labels":false,"title":null}},
    "y":{"field":"c","type":"quantitative","scale":{"domain":[0.00024,0.00548],"nice":false,"zero":false},"axis":{"values":[0.001,0.002,0.003,0.004,0.005],"tickCount":20,"format":".3f","title":"Cell density","minExtent":42,"maxExtent":42,"titlePadding":4.6}}
   }},
  {"data":{"name":"fit"},"transform":[{"filter":"datum.p==='c'"}],
   "mark":{"type":"line","strokeWidth":2,"interpolate":"monotone"},
   "encoding":{"x":{"field":"t","type":"quantitative"},"y":{"field":"c","type":"quantitative"},
    "stroke":{"field":"m","type":"nominal","scale":{"domain":["(1) Logistic","(4) GP"],"range":["#0000ff","#ff0000"]},
      "legend":{"orient":"top-left","offset":4,"padding":2,"title":null,"symbolType":"M-2,0L2,0","symbolSize":81,"symbolStrokeWidth":2,"symbolOffset":3.5,"labelOffset":9.5,"rowPadding":-6}}}},
  {"data":{"name":"fit"},"transform":[{"filter":"datum.p==='c'"}],
   "mark":{"type":"line","strokeWidth":2,"interpolate":"monotone"},
   "encoding":{"x":{"field":"t","type":"quantitative"},"y":{"field":"c","type":"quantitative"},
    "color":{"field":"l","type":"nominal","scale":{"domain":["R² = 0.9955","R² = 0.9961"],"range":["#0000ff","#ff0000"]},
      "legend":{"orient":"bottom-right","offset":5,"title":null,"symbolType":"M-1.45,0L1.45,0","symbolSize":81,"symbolStrokeWidth":2,"symbolOffset":1,"labelOffset":5,"rowPadding":-7}}}}
 ]},
{"width":177,"height":127,"title":{"text":"(d)"},
 "layer":[
  {"data":{"name":"gx"},"transform":[{"filter":"datum.p==='d'"}],"mark":{"type":"rule","color":"#b4b4b4","strokeWidth":1},"encoding":{"x":{"field":"v","type":"quantitative"}}},
  {"data":{"name":"gy"},"transform":[{"filter":"datum.p==='d'"}],"mark":{"type":"rule","color":"#b4b4b4","strokeWidth":1},"encoding":{"y":{"field":"v","type":"quantitative"}}},
  {"data":{"name":"dens"},"transform":[{"filter":"datum.p==='d'"}],
   "mark":{"type":"area","fillOpacity":0.3,"clip":true,"interpolate":"monotone"},
   "encoding":{
    "x":{"field":"r","type":"quantitative","scale":{"domain":[0.5,2.0],"nice":false,"zero":false},"axis":{"values":[0.5,1,1.5,2],"tickCount":20,"format":".1f","title":"r [d⁻¹]","titleFont":"Liberation Serif","titlePadding":10}},
    "y":{"field":"d","type":"quantitative","stack":null,"scale":{"domain":[0,13.43],"nice":false},"axis":{"values":[0,2,4,6,8,10,12],"tickCount":20,"format":"d","title":"Posterior density","minExtent":22,"maxExtent":22,"titlePadding":4.5}},
    "fill":{"field":"s","type":"nominal","scale":{"domain":["(1) Logistic","(2) True","(3) Richards","(4) GP"],"range":["#0000ff","#800080","#ffa500","#ff0000"]},"legend":null}
   }},
  {"data":{"name":"dens"},"transform":[{"filter":"datum.p==='d'"}],
   "mark":{"type":"line","strokeWidth":2,"clip":true,"interpolate":"monotone"},
   "encoding":{
    "x":{"field":"r","type":"quantitative"},
    "y":{"field":"d","type":"quantitative"},
    "stroke":{"field":"s","type":"nominal","scale":{"domain":["(1) Logistic","(2) True","(3) Richards","(4) GP"],"range":["#0000ff","#800080","#ffa500","#ff0000"]},"legend":null}
   }},
  {"data":{"name":"vline"},"mark":{"type":"rule","color":"black","strokeWidth":2.5,"strokeDash":[2.4,2.8]},
   "encoding":{"x":{"field":"r","type":"quantitative"}}}
 ]},
{"width":177,"height":127,"title":{"text":"(e)"},
 "layer":[
  {"data":{"name":"gx"},"transform":[{"filter":"datum.p==='e'"}],"mark":{"type":"rule","color":"#b4b4b4","strokeWidth":1},"encoding":{"x":{"field":"v","type":"quantitative"}}},
  {"data":{"name":"gy"},"transform":[{"filter":"datum.p==='e'"}],"mark":{"type":"rule","color":"#b4b4b4","strokeWidth":1},"encoding":{"y":{"field":"v","type":"quantitative"}}},
  {"data":{"name":"mean"},"transform":[{"filter":"datum.p==='e' && datum.s==='Prior'"}],
   "mark":{"type":"line","strokeWidth":1.4},
   "encoding":{
    "x":{"field":"u","type":"quantitative","scale":{"domain":[0,1],"nice":false},"axis":{"values":[0,0.2,0.4,0.6,0.8,1],"tickCount":20,"format":".1f","title":"û","titleFont":"Liberation Serif","titleFontStyle":"italic","titlePadding":10}},
    "y":{"field":"f","type":"quantitative","scale":{"domain":[-0.008,1.21],"nice":false,"zero":false},"axis":{"values":[0,0.25,0.5,0.75,1],"tickCount":20,"format":".2f","title":"f(û)","titleFont":"Liberation Serif","titleFontStyle":"italic","minExtent":30,"maxExtent":30,"titlePadding":7}},
    "stroke":{"field":"s","type":"nominal","scale":{"domain":["Prior","(3) Richards","(4) GP","1 − û²"],"range":["#333333","#ffa500","#ff0000","#000000"]},"legend":null}
   }},
  {"data":{"name":"band"},"transform":[{"filter":"datum.p==='e'"}],
   "mark":{"type":"area","fillOpacity":0.3,"interpolate":"monotone"},
   "encoding":{
    "x":{"field":"u","type":"quantitative"},
    "y":{"field":"lo","type":"quantitative","stack":null},
    "y2":{"field":"hi"},
    "fill":{"field":"s","type":"nominal","scale":{"domain":["Prior","(3) Richards","(4) GP","1 − û²"],"range":["#9a9a9a","#ffa500","#ff0000","rgba(0,0,0,0)"]},"legend":null}
   }},
  {"data":{"name":"mean"},"transform":[{"filter":"datum.p==='e' && datum.s!=='Prior'"}],
   "mark":{"type":"line","strokeWidth":2,"interpolate":"monotone"},
   "encoding":{"x":{"field":"u","type":"quantitative"},"y":{"field":"f","type":"quantitative"},"stroke":{"field":"s","type":"nominal"}}},
  {"data":{"name":"quad"},
   "mark":{"type":"line","strokeWidth":2.6,"strokeDash":[2.4,3],"interpolate":"monotone"},
   "encoding":{"x":{"field":"u","type":"quantitative"},"y":{"field":"f","type":"quantitative"},"stroke":{"field":"s","type":"nominal"}}}
 ]},
{"width":177,"height":127,"title":{"text":"(f)"},
 "layer":[
  {"data":{"name":"gx"},"transform":[{"filter":"datum.p==='f'"}],"mark":{"type":"rule","color":"#b4b4b4","strokeWidth":1},"encoding":{"x":{"field":"v","type":"quantitative"}}},
  {"data":{"name":"gy"},"transform":[{"filter":"datum.p==='f'"}],"mark":{"type":"rule","color":"#b4b4b4","strokeWidth":1},"encoding":{"y":{"field":"v","type":"quantitative"}}},
  {"data":{"name":"obs"},"transform":[{"filter":"datum.p==='f'"}],
   "mark":{"type":"circle","size":50,"color":"#404040","opacity":0.3},
   "encoding":{
    "x":{"field":"t","type":"quantitative","scale":{"domain":[-0.168,5.14],"nice":false,"zero":false},"axis":{"values":[0,1,2,3,4,5],"tickCount":20,"format":"d","title":"t [d]","titleFont":"Liberation Serif","titlePadding":10}},
    "y":{"field":"c","type":"quantitative","scale":{"domain":[0.00233,0.00527],"nice":false,"zero":false},"axis":{"values":[0.0025,0.003,0.0035,0.004,0.0045,0.005],"tickCount":20,"format":".4f","title":"Cell density","minExtent":42,"maxExtent":42,"titlePadding":4.6}}
   }},
  {"data":{"name":"fit"},"transform":[{"filter":"datum.p==='f'"}],
   "mark":{"type":"line","strokeWidth":2,"interpolate":"monotone"},
   "encoding":{"x":{"field":"t","type":"quantitative"},"y":{"field":"c","type":"quantitative"},
    "color":{"field":"l","type":"nominal","scale":{"domain":["R² = 0.9813","R² = 0.9812"],"range":["#0000ff","#ff0000"]},
      "legend":{"orient":"bottom-right","offset":5,"title":null,"symbolType":"M-1.45,0L1.45,0","symbolSize":81,"symbolStrokeWidth":2,"symbolOffset":1,"labelOffset":5,"rowPadding":-7}}}}
 ]}
],
"config":{
 "font":"Liberation Sans",
 "view":{"stroke":"black","strokeWidth":1},
 "axis":{"domain":false,"grid":false,"labelOverlap":false,"labelFlush":false,"tickCount":20,"tickColor":"black","tickSize":4,"tickWidth":1,"labelFont":"Liberation Sans","labelFontSize":11.5,"labelColor":"black","labelPadding":2,"titleFont":"Liberation Sans","titleFontSize":13,"titleFontWeight":"normal","titleColor":"black"},
 "legend":{"labelFont":"Liberation Sans","labelFontSize":11.5,"labelColor":"black","fillColor":"rgba(255,255,255,0.8)","padding":3},
 "title":{"anchor":"start","fontSize":15,"fontWeight":"normal","font":"Liberation Sans","color":"black","offset":5}
}
}
